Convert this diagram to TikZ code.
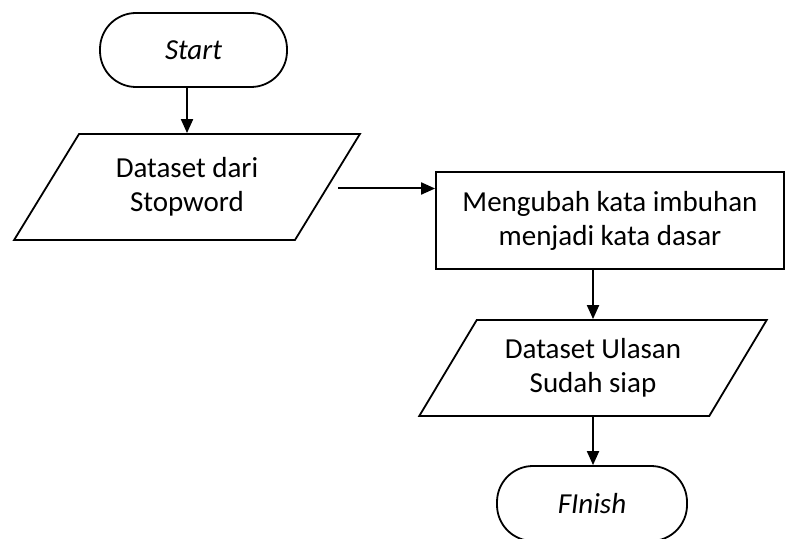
\documentclass[tikz,border=0pt]{standalone}
\usepackage{fontspec}
\setmainfont{Carlito}
\usetikzlibrary{shapes.geometric,arrows.meta}

\newcommand\ukuran{\fontsize{14.5pt}{17pt}\selectfont}

\tikzset{
  terminal/.style={draw,line width=0.9pt,rounded corners=18pt,align=center,font={\ukuran\itshape}},
  data/.style={draw,line width=0.9pt,trapezium,trapezium left angle=57,trapezium right angle=123,
    trapezium stretches=true,align=center},
  proses/.style={draw,line width=0.9pt,rectangle,align=center},
  panah/.style={line width=1pt,-{Triangle[length=7pt,width=6pt]}}
}

\begin{document}
\begin{tikzpicture}[x=0.5pt,y=-0.5pt,font=\ukuran]
  \useasboundingbox (0,0) rectangle (785,539);

  % flow shapes
  \node[terminal,minimum width=93.5pt,minimum height=37pt] (start) at (193.5,50) {Start};
  \node[data,minimum width=173pt,minimum height=53pt] (dataset) at (187,187)
  {Dataset dari\\Stopword};
  \node[proses,minimum width=174pt,minimum height=48.5pt] (stemming) at (610,220.5)
  {Mengubah kata imbuhan\\menjadi kata dasar};
  \node[data,minimum width=174pt,minimum height=48pt] (hasil) at (593,368)
  {Dataset Ulasan\\Sudah siap};
  \node[terminal,minimum width=95pt,minimum height=37.5pt] (finish) at (592,503.5) {FInish};

  % arrows
  \coordinate (keluar) at (338,188.5);
  \draw[panah] (dataset.north |- start.south) -- (dataset.north);
  \draw[panah] (keluar) -- (keluar -| stemming.west);
  \draw[panah] (hasil.north |- stemming.south) -- (hasil.north);
  \draw[panah] (hasil.south) -- (finish.north -| hasil.south);
\end{tikzpicture}
\end{document}
